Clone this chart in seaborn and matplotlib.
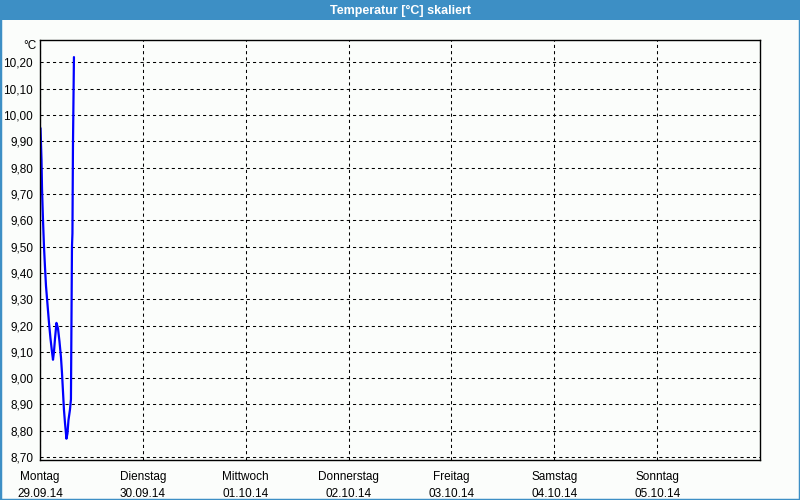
import matplotlib
matplotlib.use("Agg")
import matplotlib.pyplot as plt
import matplotlib.patches as mpatches
import seaborn as sns
import pandas as pd

# Data (hours since Monday 29.09.14 00:00, temperature in °C)
hours = [0.12, 0.35, 0.47, 0.70, 0.93, 1.17, 1.40, 1.75, 2.10, 2.45, 2.80, 3.03,
         3.26, 3.50, 3.84, 4.19, 4.54, 4.89, 5.13, 5.36, 5.59, 5.83, 6.17, 6.41,
         6.64, 6.99, 7.22, 7.34, 7.46, 7.57, 7.69, 7.92]
temps = [9.95, 9.83, 9.72, 9.60, 9.50, 9.42, 9.35, 9.28, 9.21, 9.15, 9.10, 9.07,
         9.10, 9.15, 9.21, 9.19, 9.14, 9.08, 9.02, 8.95, 8.88, 8.83, 8.77, 8.79,
         8.84, 8.88, 8.92, 9.21, 9.50, 9.55, 9.88, 10.22]

day_names = ["Montag", "Dienstag", "Mittwoch", "Donnerstag", "Freitag", "Samstag", "Sonntag"]
day_dates = ["29.09.14", "30.09.14", "01.10.14", "02.10.14", "03.10.14", "04.10.14", "05.10.14"]
y_ticks = [8.70, 8.80, 8.90, 9.00, 9.10, 9.20, 9.30, 9.40, 9.50, 9.60, 9.70, 9.80,
           9.90, 10.00, 10.10, 10.20]

title = "Temperatur [°C] skaliert"
unit = "°C"

df = pd.DataFrame({"h": hours, "t": temps})

bg = "#fbfdfb"
frame_blue = "#3d8fc5"

sns.set_style("white")
plt.rcParams["font.family"] = ["Liberation Sans", "DejaVu Sans"]

fig = plt.figure(figsize=(8, 5), dpi=100, facecolor=bg)
ax = fig.add_axes([0.05, 0.08, 0.90, 0.84])
ax.set_facecolor(bg)

sns.lineplot(data=df, x="h", y="t", ax=ax, color="#0000ff", linewidth=1.6,
             estimator=None, sort=False, legend=False)

ax.set_xlim(0, 168)
ax.set_ylim(8.689, 10.285)

xt = [24 * i for i in range(len(day_names))]
ax.set_xticks(xt)
ax.set_xticklabels([f"{n}\n{d}" for n, d in zip(day_names, day_dates)],
                   fontsize=8.5, linespacing=1.55)
ax.set_yticks(y_ticks)
ax.set_yticklabels([f"{v:.2f}".replace(".", ",") for v in y_ticks], fontsize=8.5)

ax.tick_params(axis="both", direction="out", length=3, width=1, color="black",
               labelcolor="black", pad=2)
ax.tick_params(axis="x", pad=5)

ax.grid(True, color="black", linestyle=(0, (3, 3)), linewidth=0.75)
for s in ax.spines.values():
    s.set_visible(True)
    s.set_color("black")
    s.set_linewidth(1.0)

ax.set_xlabel("")
ax.set_ylabel("")

# unit label
fig.text(0.046, 0.908, unit, ha="right", va="center", fontsize=8.5, color="black")

# title bar
fig.patches.append(mpatches.Rectangle((0, 0.96), 1, 0.04, transform=fig.transFigure,
                                      facecolor=frame_blue, edgecolor="none", zorder=0))
fig.text(0.5, 0.979, title, ha="center", va="center", fontsize=9,
         fontweight="bold", color="white")
# outer frame
fig.patches.append(mpatches.Rectangle((0, 0), 1, 1, transform=fig.transFigure,
                                      facecolor="none", edgecolor=frame_blue,
                                      linewidth=2.5, zorder=5))

fig.savefig("out.png", dpi=100, facecolor=bg)
